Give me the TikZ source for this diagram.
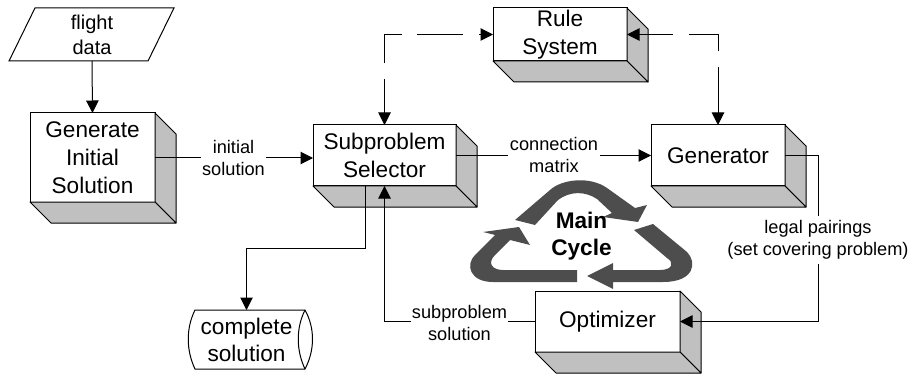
\documentclass[tikz,border=0pt]{standalone}
\usepackage{fontspec}
\setmainfont{Liberation Sans}
\usetikzlibrary{arrows.meta,calc}
\definecolor{sidegray}{HTML}{C0C0C0}
\definecolor{cyclegray}{HTML}{4D4D4D}
\tikzset{
  frontbox/.style={draw=black,fill=white,line width=1pt,inner sep=0pt,outer sep=0pt,align=center,font=\fontsize{22.6}{28}\selectfont},
  face/.style={draw=black,fill=sidegray,line width=1pt,line join=round},
  outline/.style={draw=black,fill=white,line width=1pt},
  plain/.style={inner sep=0pt,outer sep=0pt,align=center},
  conn/.style={draw=black,line width=1pt,-{Triangle[length=12.5pt,width=12.5pt]}},
  dconn/.style={draw=black,line width=1pt,{Triangle[length=12.5pt,width=12.5pt]}-{Triangle[length=12.5pt,width=12.5pt]},dash pattern=on 46pt off 15.5pt,dash phase=12pt},
  edgelabel/.style={fill=white,inner ysep=3pt,inner xsep=1pt,outer sep=0pt,align=center,font=\fontsize{18.2}{22}\selectfont},
  cyclearrow/.style={fill=cyclegray,draw=none}
}
\newcommand{\depthfaces}[1]{%
  \draw[face] (#1.north east) -- ++(21,21) -- ($(#1.south east)+(21,21)$) -- (#1.south east) -- cycle;
  \draw[face] (#1.south west) -- ++(21,21) -- ($(#1.south east)+(21,21)$) -- (#1.south east) -- cycle;
}
\begin{document}
\begin{tikzpicture}[x=1pt,y=-1pt]
\useasboundingbox (0,0) rectangle (912,374);
% flight data
\draw[outline] (35,8) -- (174,8) -- (148,61) -- (9,61) -- cycle;
\node[plain,minimum height=53pt,font=\fontsize{20}{25}\selectfont] (fd) at (92,34.5) {flight\\data};
% boxes
\node[frontbox,minimum width=125pt,minimum height=89pt] (gis) at (92.5,157.5) {Generate\\Initial\\Solution};
\node[frontbox,minimum width=143pt,minimum height=61pt] (sub) at (384.5,155.5) {Subproblem\\Selector};
\node[frontbox,minimum width=134pt,minimum height=53pt] (rule) at (560,34.5) {Rule\\System};
\node[frontbox,minimum width=134pt,minimum height=61pt] (gen) at (718,155.5) {Generator};
\node[frontbox,minimum width=145pt,minimum height=61pt] (opt) at (607.5,321.5) {Optimizer};
\depthfaces{gis}\depthfaces{sub}\depthfaces{rule}\depthfaces{gen}\depthfaces{opt}
% complete solution
\draw[outline] (195,310) -- (305,310) .. controls (315,328) and (315,350) .. (305,369) -- (195,369) .. controls (186,350) and (186,328) .. (195,310) -- cycle;
\draw[draw=black,line width=1pt] (305,310) .. controls (296,328) and (296,350) .. (305,369);
\node[plain,minimum height=59pt,font=\fontsize{22.6}{27}\selectfont] (cs) at (246.5,339.5) {complete\\solution};
% connectors
\coordinate (subout) at ($(sub.south)+(-19.5,0)$);
\coordinate (csbend) at (246.5,248);
\draw[conn] (fd.south) -- (gis.north);
\draw[conn] (gis.east) ++(0,0.5) -- (sub.west |- 0,158);
\draw[conn] (sub.east) -- (gen.west);
\draw[conn] (gen.east) -- ++(33,0) |- (opt.east);
\draw[conn] (opt.west) -| (sub.south);
\draw[conn] (subout) |- (csbend) -- (cs.north);
\draw[dconn] (sub.north) |- (rule.west);
\draw[dconn] (rule.east) -| (gen.north);
% edge labels
\node[edgelabel] (l1) at (233.5,158) {initial\\solution};
\node[edgelabel,inner xsep=2pt] (l2) at (554,155) {connection\\matrix};
\node[edgelabel,inner ysep=5pt] (l3) at (818,240) {legal pairings\\(set covering problem)};
\node[edgelabel,inner xsep=0.5pt] (l4) at (459.5,322.5) {subproblem\\solution};
% main cycle
\fill[cyclearrow] (515,220) -- (550,190) .. controls (562,179) and (590,176) .. (607,188) -- (635,208) -- (647,205) -- (638,222) -- (603,217) -- (612,213) -- (597,199) .. controls (585,191) and (570,191) .. (558,200) -- (535,225) -- cycle;
\fill[cyclearrow] (634,230) -- (653,224) -- (687,252) .. controls (697,262) and (695,282) .. (663,282) -- (613,282) -- (613,289) -- (587,276) -- (613,263) -- (613,270) -- (660,270) .. controls (672,270) and (675,263) .. (667,258) -- cycle;
\fill[cyclearrow] (577,270) -- (577,282) -- (493,282) .. controls (470,282) and (465,265) .. (475,255) -- (495,235) -- (483,232) -- (519,227) -- (530,245) -- (510,240) -- (495,255) .. controls (487,263) and (492,270) .. (503,270) -- cycle;
\node[plain,font=\bfseries\fontsize{22.6}{27}\selectfont] (mc) at (581.5,236) {Main\\Cycle};
\end{tikzpicture}
\end{document}
